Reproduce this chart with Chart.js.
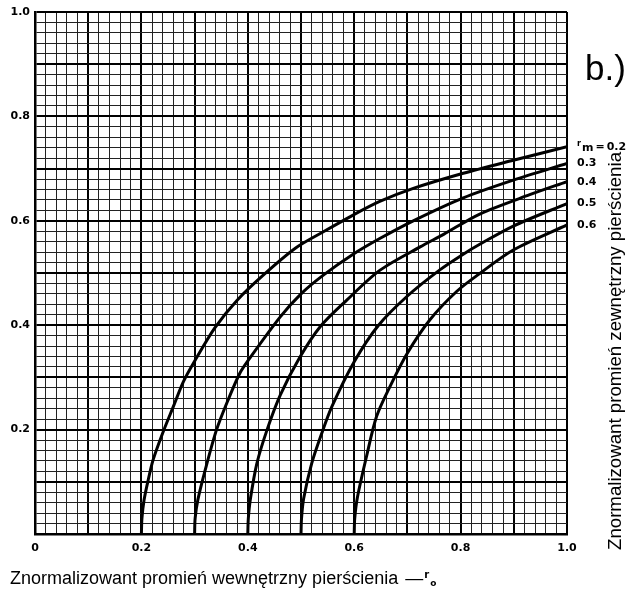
<!DOCTYPE html>
<html><head><meta charset="utf-8">
<script src="https://cdn.jsdelivr.net/npm/chart.js@4/dist/chart.umd.min.js"></script>
<style>html,body{margin:0;padding:0;background:#fff}#wrap{width:633px;height:591px;position:relative}</style>
</head><body><div id="wrap"><canvas id="c" width="633" height="591"></canvas></div>
<script>
// ---- data ----
const rmLabels = ['0.2', '0.3', '0.4', '0.5', '0.6'];
const xTickLabels = ['0', '0.2', '0.4', '0.6', '0.8', '1.0'];
const yTickLabels = ['0.2', '0.4', '0.6', '0.8', '1.0'];

const rm02x = [0.2, 0.201, 0.205, 0.212, 0.222, 0.241, 0.26, 0.279, 0.301, 0.338, 0.38, 0.429, 0.49, 0.542, 0.598, 0.648, 0.711, 0.805, 0.899, 1.0];
const rm02y = [0, 0.03, 0.065, 0.1, 0.142, 0.196, 0.244, 0.292, 0.333, 0.395, 0.448, 0.496, 0.548, 0.579, 0.611, 0.637, 0.662, 0.691, 0.716, 0.742];

const rm03x = [0.3, 0.301, 0.306, 0.32, 0.341, 0.363, 0.385, 0.401, 0.461, 0.501, 0.542, 0.598, 0.648, 0.711, 0.805, 0.899, 1.0];
const rm03y = [0, 0.03, 0.065, 0.123, 0.199, 0.257, 0.308, 0.333, 0.416, 0.461, 0.496, 0.536, 0.566, 0.600, 0.644, 0.678, 0.710];

const rm04x = [0.4, 0.401, 0.405, 0.417, 0.436, 0.461, 0.497, 0.536, 0.586, 0.648, 0.724, 0.768, 0.836, 0.93, 1.0];
const rm04y = [0, 0.03, 0.068, 0.135, 0.199, 0.266, 0.337, 0.397, 0.448, 0.505, 0.550, 0.574, 0.613, 0.650, 0.675];

const rm05x = [0.5, 0.501, 0.505, 0.52, 0.539, 0.558, 0.6, 0.645, 0.699, 0.761, 0.805, 0.836, 0.899, 1.0];
const rm05y = [0, 0.03, 0.068, 0.135, 0.193, 0.244, 0.330, 0.399, 0.455, 0.506, 0.536, 0.555, 0.590, 0.633];

const rm06x = [0.6, 0.601, 0.606, 0.623, 0.642, 0.667, 0.699, 0.742, 0.793, 0.836, 0.899, 1.0];
const rm06y = [0, 0.03, 0.07, 0.148, 0.225, 0.282, 0.345, 0.410, 0.465, 0.499, 0.544, 0.592];

const seriesX = [rm02x, rm03x, rm04x, rm05x, rm06x];
const seriesY = [rm02y, rm03y, rm04y, rm05y, rm06y];

const xTitle = 'Znormalizowant promień wewnętrzny pierścienia';
const yTitle = 'Znormalizowant promień zewnętrzny pierścienia';
const panelLabel = 'b.)';

// ---- chart ----
const datasets = seriesX.map((xs, k) => ({
  label: 'rm = ' + rmLabels[k],
  data: xs.map((x, i) => ({ x: x, y: seriesY[k][i] })),
  showLine: true,
  borderColor: '#000',
  borderWidth: 3,
  pointRadius: 0,
  tension: 0.3,
  fill: false
}));

const tickFont = { family: '"DejaVu Sans", sans-serif', size: 11, weight: 'bold' };

const textPlugin = {
  id: 'texts',
  afterDraw(chart) {
    const ctx = chart.ctx;
    const ys = chart.scales.y;
    ctx.save();
    ctx.fillStyle = '#000';
    // x title
    ctx.textBaseline = 'alphabetic';
    ctx.textAlign = 'left';
    ctx.font = '18px "Liberation Sans", Arial, sans-serif';
    ctx.fillText(xTitle, 10, 584);
    let w = ctx.measureText(xTitle).width;
    ctx.fillText(' —', 12 + w, 584);
    const w2 = ctx.measureText(' —').width;
    ctx.font = 'bold 10px "DejaVu Sans", sans-serif';
    ctx.fillText('r', 13 + w + w2, 578);
    ctx.font = 'bold 9px "DejaVu Sans", sans-serif';
    ctx.fillText('o', 13 + w + w2 + 6, 586);
    // y title (rotated, stretched to the reference length)
    ctx.save();
    ctx.translate(616, 550);
    ctx.rotate(-Math.PI / 2);
    ctx.font = '18px "Liberation Sans", Arial, sans-serif';
    const yw = ctx.measureText(yTitle).width;
    ctx.scale(398 / yw, 1);
    ctx.textBaseline = 'middle';
    ctx.fillText(yTitle, 0, 0);
    ctx.restore();
    // panel label
    ctx.font = '35px "Liberation Sans", Arial, sans-serif';
    ctx.textBaseline = 'alphabetic';
    ctx.fillText(panelLabel, 585, 80);
    // rm labels
    ctx.textBaseline = 'middle';
    seriesY.forEach((yv, k) => {
      const py = ys.getPixelForValue(yv[yv.length - 1]);
      let x = 577;
      if (k === 0) {
        ctx.font = 'bold 8px "DejaVu Sans", sans-serif';
        ctx.fillText('r', x, py - 3);
        x += 5;
        ctx.font = 'bold 11px "DejaVu Sans", sans-serif';
        ctx.fillText('m', x, py + 1);
        x += ctx.measureText('m').width + 2;
        ctx.fillText('=', x, py);
        x += ctx.measureText('=').width + 2;
      }
      ctx.font = 'bold 11px "DejaVu Sans", sans-serif';
      ctx.fillText(rmLabels[k], x, py);
    });
    ctx.restore();
  }
};

new Chart(document.getElementById('c'), {
  type: 'scatter',
  data: { datasets: datasets },
  options: {
    responsive: false,
    devicePixelRatio: 1,
    animation: false,
    layout: { padding: { left: 0, top: 12, right: 66, bottom: 0 } },
    plugins: { legend: { display: false }, tooltip: { enabled: false } },
    scales: {
      x: {
        type: 'linear', min: 0, max: 1,
        afterFit(s) { s.height = 57; },
        ticks: {
          stepSize: 0.02, autoSkip: false, maxRotation: 0, padding: 8,
          color: '#000', font: tickFont,
          callback: (v, i) => (i % 10 === 0 ? xTickLabels[i / 10] : '')
        },
        grid: {
          color: (c) => (c.index % 5 === 0 ? '#000' : '#222'),
          lineWidth: (c) => (c.index % 5 === 0 ? 2 : 1),
          drawTicks: false
        },
        border: { display: true, color: '#000', width: 2.5 }
      },
      y: {
        type: 'linear', min: 0, max: 1,
        afterFit(s) { s.width = 35; },
        ticks: {
          stepSize: 0.02, autoSkip: false, padding: 5,
          color: '#000', font: tickFont,
          callback: (v, i) => (i % 10 === 0 && i > 0 ? yTickLabels[i / 10 - 1] : '')
        },
        grid: {
          color: (c) => (c.index % 5 === 0 ? '#000' : '#222'),
          lineWidth: (c) => (c.index % 5 === 0 ? 2 : 1),
          drawTicks: false
        },
        border: { display: true, color: '#000', width: 2.5 }
      }
    }
  },
  plugins: [textPlugin]
});
</script>
</body></html>
